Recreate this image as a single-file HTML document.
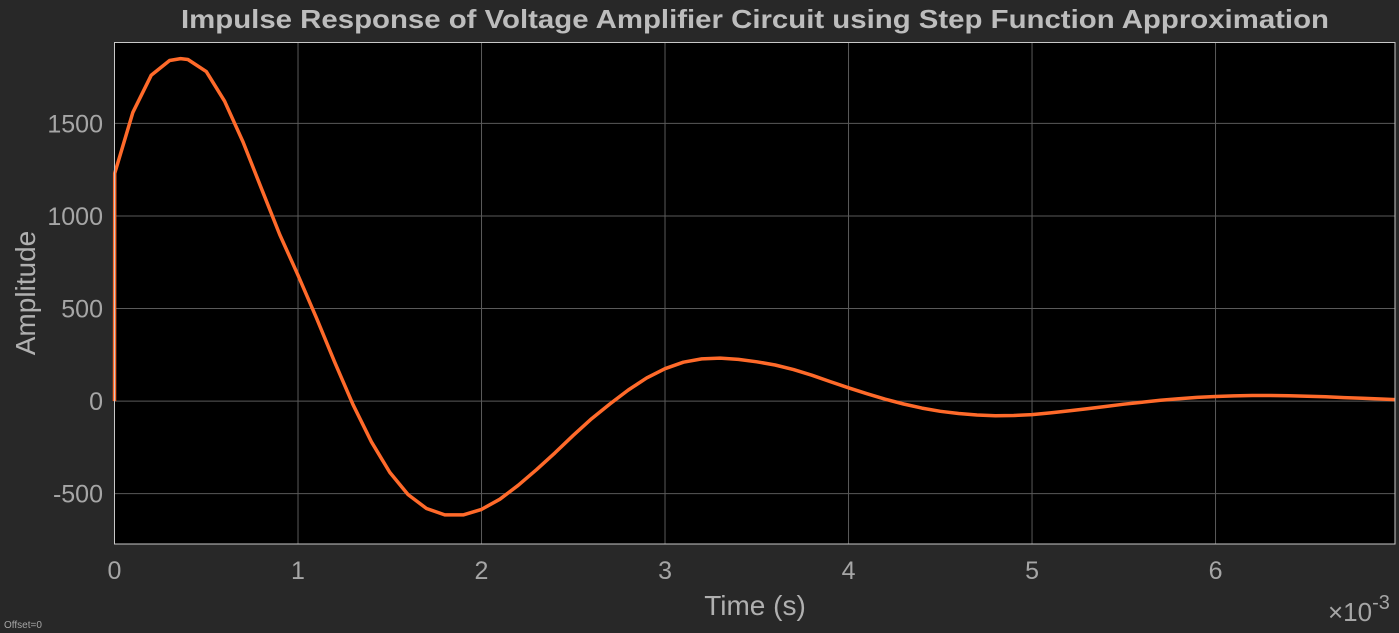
<!DOCTYPE html>
<html><head><meta charset="utf-8"><style>
body{margin:0;background:#282828;}
svg{display:block;font-family:"Liberation Sans",Arial,sans-serif;}
</style></head><body>
<svg id="chart" width="1399" height="633">
<rect width="1399" height="633" fill="#282828"/>
<text x="755" y="28" text-anchor="middle" font-size="26" font-weight="bold" fill="#bdbdbd" textLength="1148" lengthAdjust="spacingAndGlyphs">Impulse Response of Voltage Amplifier Circuit using Step Function Approximation</text>
<rect x="114.5" y="42.5" width="1280.5" height="501.5" fill="#000"/>
<g id="grid"></g>
<g id="ticks"></g>
<path id="line" fill="none" stroke="#ff6a2a" stroke-width="3.5" stroke-linejoin="round"/>
<rect x="114.5" y="42.5" width="1280.5" height="501.5" fill="none" stroke="#c8c8c8" stroke-width="1"/>
<text x="755" y="615" text-anchor="middle" font-size="28" fill="#b0b0b0">Time (s)</text>
<text transform="translate(35,293) rotate(-90)" text-anchor="middle" font-size="28" fill="#b0b0b0">Amplitude</text>
<text x="1328" y="621" font-size="26" fill="#a6a6a6">×10<tspan font-size="20" dy="-12">-3</tspan></text>
<text x="4" y="628" font-size="10" fill="#a6a6a6">Offset=0</text>
</svg>
<script>
const xTicks=[0,1,2,3,4,5,6];
const yTicks=[-500,0,500,1000,1500];
const tMs=[0,0.001,0.1,0.2,0.3,0.36,0.4,0.5,0.6,0.7,0.8,0.9,1.0,1.1,1.2,1.3,1.4,1.5,1.6,1.7,1.8,1.9,2.0,2.1,2.2,2.3,2.4,2.5,2.6,2.7,2.8,2.9,3.0,3.1,3.2,3.3,3.4,3.5,3.6,3.7,3.8,3.9,4.0,4.1,4.2,4.3,4.4,4.5,4.6,4.7,4.8,4.9,5.0,5.1,5.2,5.3,5.4,5.5,5.6,5.7,5.8,5.9,6.0,6.1,6.2,6.3,6.4,6.5,6.6,6.7,6.8,6.9,6.98];
const amp=[0,1230,1560,1760,1840,1850,1845,1780,1620,1400,1150,900,680,450,210,-20,-220,-385,-505,-580,-615,-615,-585,-530,-455,-370,-280,-185,-95,-15,60,125,175,210,228,232,225,212,195,170,140,105,72,40,10,-16,-38,-55,-67,-75,-79,-78,-73,-64,-53,-41,-29,-17,-6,4,13,20,25,28,30,30,29,26,23,19,15,11,8];
const X0=114.5,X1=1395,XMAX=6.978,Y0=42.5,Y1=544,YMAX=1937,YMIN=-772;
const xs=v=>X0+(v/XMAX)*(X1-X0);
const ys=v=>Y1-(v-YMIN)/(YMAX-YMIN)*(Y1-Y0);
const NS="http://www.w3.org/2000/svg";
const grid=document.getElementById('grid'),ticks=document.getElementById('ticks');
xTicks.forEach(v=>{
 const l=document.createElementNS(NS,'line');
 l.setAttribute('x1',xs(v));l.setAttribute('x2',xs(v));l.setAttribute('y1',Y0);l.setAttribute('y2',Y1);
 l.setAttribute('stroke','#5a5a5a');l.setAttribute('stroke-width','1');
 
 
 grid.appendChild(l);
 const t=document.createElementNS(NS,'text');
 t.setAttribute('x',xs(v));t.setAttribute('y',579);t.setAttribute('text-anchor','middle');
 t.setAttribute('font-size','25');t.setAttribute('fill','#a6a6a6');t.textContent=v;
 
 
 ticks.appendChild(t);
});
yTicks.forEach(v=>{
 const l=document.createElementNS(NS,'line');
 l.setAttribute('x1',X0);l.setAttribute('x2',X1);l.setAttribute('y1',ys(v));l.setAttribute('y2',ys(v));
 l.setAttribute('stroke','#5a5a5a');l.setAttribute('stroke-width','1');
 
 
 grid.appendChild(l);
 const t=document.createElementNS(NS,'text');
 t.setAttribute('x',103);t.setAttribute('y',ys(v)+9);t.setAttribute('text-anchor','end');
 t.setAttribute('font-size','25');t.setAttribute('fill','#a6a6a6');t.textContent=v;
 
 
 ticks.appendChild(t);
});
document.getElementById('line').setAttribute('d',tMs.map((t,i)=>(i?'L':'M')+xs(t).toFixed(1)+','+ys(amp[i]).toFixed(1)).join(''));
</script>
</body></html>
